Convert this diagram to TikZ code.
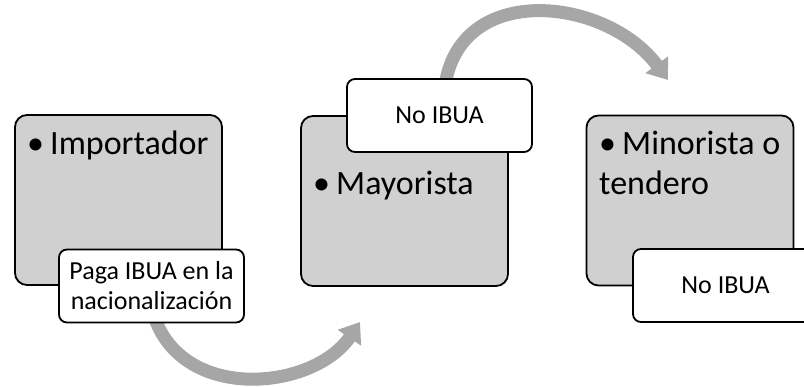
\documentclass[tikz,border=0pt]{standalone}
\usepackage{fontspec}
\setmainfont{Carlito}
\usetikzlibrary{arrows.meta}
\definecolor{boxgray}{RGB}{208,208,208}
\definecolor{arrowgray}{RGB}{166,166,166}
\newcommand\stagebullet{\makebox[23pt][l]{\textbullet}}
\tikzset{
  stage/.style={draw=black, line width=1.8pt, fill=boxgray, rounded corners=12pt,
    minimum width=207pt, minimum height=170pt, inner sep=0pt},
  tag/.style={draw=black, line width=1.8pt, fill=white, rounded corners=8pt,
    minimum width=185pt, minimum height=73pt, inner sep=0pt, align=center,
    font=\fontsize{26}{30}\selectfont},
  stagetext/.style={anchor=base west, inner sep=0pt, font=\fontsize{34}{40}\selectfont},
  flow/.style={draw=arrowgray, line width=13pt, -{Triangle[length=19pt,width=27pt]}}
}
\begin{document}
\begin{tikzpicture}[x=1pt,y=-1pt]
\useasboundingbox (0,0) rectangle (804,387);
\clip (0,0) rectangle (804,387);
% arrow anchor points
\coordinate (a1s) at (150,300);
\coordinate (a1e) at (360,322);
\coordinate (a2s) at (444,95);
\coordinate (a2e) at (668,80);
\draw[flow] (a1s) .. controls (168,405) and (312,393) .. (a1e);
\draw[flow] (a2s) .. controls (452,-20) and (605,-5) .. (a2e);
% stage boxes
\node[stage] (box1) at (118.5,200) {};
\node[stage] (box2) at (404.5,201) {};
\node[stage] (box3) at (690,200.5) {};
\node[stagetext] (t1) at (27,155) {\stagebullet Importador};
\node[stagetext] (t2) at (313,195) {\stagebullet Mayorista};
\node[stagetext] (t3a) at (599,155) {\stagebullet Minorista o};
\node[stagetext] (t3b) at (599,195) {tendero};
% tags
\node[tag] (tag1) at (151.5,286) {Paga IBUA en la\\nacionalización};
\node[tag] (tag2) at (439.5,115.5) {No IBUA};
\node[tag] (tag3) at (725.5,285.5) {No IBUA};
\end{tikzpicture}
\end{document}
